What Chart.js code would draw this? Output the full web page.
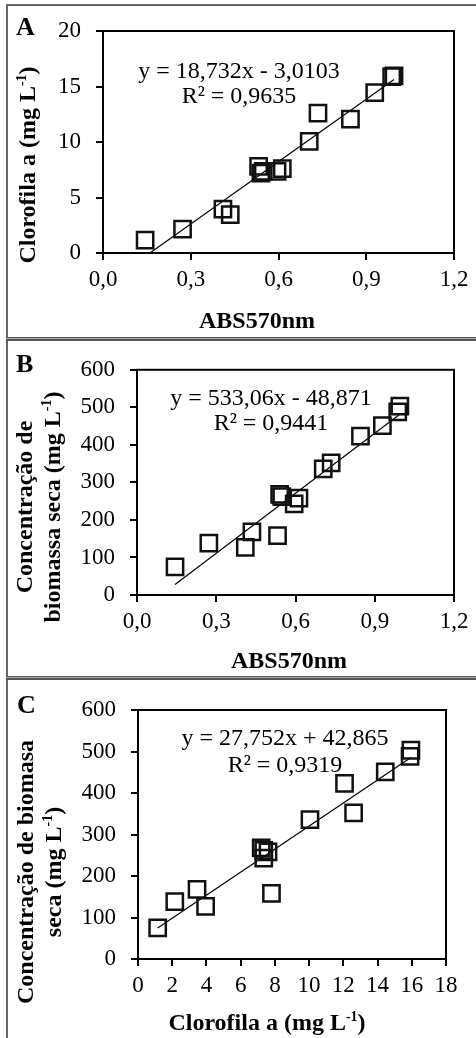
<!DOCTYPE html>
<html>

<head>
    <title>Clorofila a e biomassa seca vs ABS570nm</title>
    <meta name="viewport" content="width=device-width, initial-scale=1.0">
    <script src="https://cdn.jsdelivr.net/npm/chart.js"></script>
    <style type="text/css">
        body {
            margin: 0;
            background: #fff;
        }

        #page {
            position: relative;
            width: 476px;
            height: 1038px;
            overflow: hidden;
        }

        .frame {
            position: absolute;
            left: 6px;
            top: 4px;
            width: 600px;
            height: 1100px;
            border-left: 2px solid #666;
            border-top: 2px solid #666;
        }

        .sep {
            position: absolute;
            left: 6px;
            width: 600px;
            height: 1px;
            background: #aaa;
            border-top: 1px solid #555;
            border-bottom: 2px solid #555;
        }

        canvas {
            position: absolute;
            left: 0;
        }
    </style>
</head>

<body>
    <div id="page">
        <div class="frame"></div>
        <div class="sep" style="top:337px"></div>
        <div class="sep" style="top:676px"></div>
        <canvas id="chartA" width="476" height="337" style="top:0"></canvas>
        <canvas id="chartB" width="476" height="335" style="top:341px"></canvas>
        <canvas id="chartC" width="476" height="358" style="top:680px"></canvas>
    </div>

    <script>
        // leituras (ABS570nm, clorofila a, biomassa seca) de cada amostra
        const absorbance = [0.144, 0.272, 0.41, 0.435, 0.532, 0.54, 0.548, 0.595, 0.613, 0.705, 0.735, 0.846, 0.929, 0.987, 0.995];
        const clorofila = [1.15, 2.15, 3.95, 3.45, 7.8, 7.2, 7.35, 7.35, 7.6, 10.05, 12.6, 12.07, 14.45, 15.9, 15.95];
        const biomassa = [75, 138, 127, 168, 158, 268, 262, 243, 258, 336, 352, 423, 451, 488, 503];

        // extremos das linhas de tendência
        const trendA = [[0.144, -0.31], [0.995, 15.63]];
        const trendB = [[0.144, 27.9], [0.995, 481.5]];
        const trendC = [[1.15, 74.8], [15.95, 485.5]];

        const ticksAbs = [0, 0.3, 0.6, 0.9, 1.2];
        const ticksClA = [0, 5, 10, 15, 20];
        const ticksBio = [0, 100, 200, 300, 400, 500, 600];
        const ticksClX = [0, 2, 4, 6, 8, 10, 12, 14, 16, 18];

        const serif = "'Liberation Serif', 'Times New Roman', serif";

        function pts(xs, ys) {
            return xs.map((x, i) => ({ x: x, y: ys[i] }));
        }

        function fmt(v, d) {
            return v.toFixed(d).replace('.', ',');
        }

        // texto com expoente: partes em string, expoente como {sup: '-1'}
        function richWidth(ctx, parts, size, weight) {
            let w = 0;
            parts.forEach(p => {
                if (typeof p === 'string') {
                    ctx.font = weight + ' ' + size + 'px ' + serif;
                    w += ctx.measureText(p).width;
                } else {
                    ctx.font = weight + ' ' + Math.round(size * 0.6) + 'px ' + serif;
                    w += ctx.measureText(p.sup).width;
                }
            });
            return w;
        }

        function drawRich(ctx, parts, x, y, size, weight) {
            let cx = x - richWidth(ctx, parts, size, weight) / 2;
            ctx.textAlign = 'left';
            ctx.textBaseline = 'alphabetic';
            ctx.fillStyle = '#000';
            parts.forEach(p => {
                if (typeof p === 'string') {
                    ctx.font = weight + ' ' + size + 'px ' + serif;
                    ctx.fillText(p, cx, y);
                    cx += ctx.measureText(p).width;
                } else {
                    ctx.font = weight + ' ' + Math.round(size * 0.6) + 'px ' + serif;
                    ctx.fillText(p.sup, cx, y - size * 0.38);
                    cx += ctx.measureText(p.sup).width;
                }
            });
        }

        const panelText = {
            id: 'panelText',
            afterDraw(chart, args, o) {
                const ctx = chart.ctx;
                const a = chart.chartArea;
                ctx.save();
                // moldura da área do gráfico
                ctx.strokeStyle = '#000';
                ctx.lineWidth = 2;
                ctx.strokeRect(a.left, a.top, a.right - a.left, a.bottom - a.top);

                ctx.fillStyle = '#000';
                ctx.textAlign = 'left';
                ctx.textBaseline = 'alphabetic';
                ctx.font = 'bold 26px ' + serif;
                ctx.fillText(o.letter, o.letterPos[0], o.letterPos[1]);

                drawRich(ctx, o.xTitle, o.xTitlePos[0], o.xTitlePos[1], 24, 'bold');

                o.yTitle.forEach((line, i) => {
                    ctx.save();
                    ctx.translate(o.yTitlePos[i][0], o.yTitlePos[i][1]);
                    ctx.rotate(-Math.PI / 2);
                    drawRich(ctx, line, 0, 0, 24, 'bold');
                    ctx.restore();
                });

                o.eq.forEach((line, i) => {
                    drawRich(ctx, [line], o.eqPos[i][0], o.eqPos[i][1], 24, 'normal');
                });
                ctx.restore();
            }
        };

        function axis(tickValues, dec, pad, size) {
            return {
                type: 'linear',
                min: tickValues[0],
                max: tickValues[tickValues.length - 1],
                afterBuildTicks: s => { s.ticks = tickValues.map(v => ({ value: v })); },
                ticks: {
                    callback: v => fmt(v, dec),
                    color: '#000',
                    padding: pad,
                    maxRotation: 0,
                    autoSkip: false,
                    font: { family: serif, size: 23 }
                },
                grid: {
                    display: true,
                    drawOnChartArea: false,
                    drawTicks: true,
                    tickLength: 7,
                    color: '#000',
                    lineWidth: 2
                },
                border: { display: true, color: '#000', width: 2 },
                afterFit: s => {
                    if (s.isHorizontal()) s.height = size; else s.width = size;
                }
            };
        }

        function makeChart(id, points, trend, xTicks, xDec, yTicks, box, text) {
            return new Chart(document.getElementById(id), {
                type: 'scatter',
                data: {
                    datasets: [{
                        data: points,
                        pointStyle: 'rect',
                        pointRadius: 11.5,
                        borderWidth: 2.5,
                        borderColor: '#111',
                        backgroundColor: 'rgba(0,0,0,0)'
                    }, {
                        type: 'line',
                        data: trend.map(p => ({ x: p[0], y: p[1] })),
                        borderColor: '#000',
                        borderWidth: 1.2,
                        pointRadius: 0,
                        fill: false
                    }]
                },
                options: {
                    responsive: false,
                    animation: false,
                    devicePixelRatio: 1,
                    layout: { padding: { top: box.top, right: box.right, left: 0, bottom: 0 } },
                    scales: {
                        x: axis(xTicks, xDec, 6, box.xh),
                        y: axis(yTicks, 0, 15, box.yw)
                    },
                    plugins: {
                        legend: { display: false },
                        tooltip: { enabled: false },
                        panelText: text
                    }
                },
                plugins: [panelText]
            });
        }

        makeChart('chartA', pts(absorbance, clorofila), trendA, ticksAbs, 1, ticksClA,
            { top: 31, right: 22, yw: 103, xh: 84 },
            {
                letter: 'A', letterPos: [16, 35],
                xTitle: ['ABS570nm'], xTitlePos: [257, 328],
                yTitle: [['Clorofila a (mg L', { sup: '-1' }, ')']],
                yTitlePos: [[35, 165]],
                eq: ['y = 18,732x - 3,0103', 'R² = 0,9635'],
                eqPos: [[239, 78], [239, 103]]
            });

        makeChart('chartB', pts(absorbance, biomassa), trendB, ticksAbs, 1, ticksBio,
            { top: 26, right: 22, yw: 137, xh: 81 },
            {
                letter: 'B', letterPos: [16, 31],
                xTitle: ['ABS570nm'], xTitlePos: [289, 327],
                yTitle: [['Concentração de'], ['biomassa seca (mg L', { sup: '-1' }, ')']],
                yTitlePos: [[32, 166], [60, 166]],
                eq: ['y = 533,06x - 48,871', 'R² = 0,9441'],
                eqPos: [[271, 64], [271, 89]]
            });

        makeChart('chartC', pts(clorofila, biomassa), trendC, ticksClX, 0, ticksBio,
            { top: 30, right: 30, yw: 138, xh: 79 },
            {
                letter: 'C', letterPos: [17, 33],
                xTitle: ['Clorofila a (mg L', { sup: '-1' }, ')'], xTitlePos: [267, 350],
                yTitle: [['Concentração de biomasa'], ['seca (mg L', { sup: '-1' }, ')']],
                yTitlePos: [[33, 192], [61, 192]],
                eq: ['y = 27,752x + 42,865', 'R² = 0,9319'],
                eqPos: [[285, 65], [285, 92]]
            });
    </script>
</body>

</html>
